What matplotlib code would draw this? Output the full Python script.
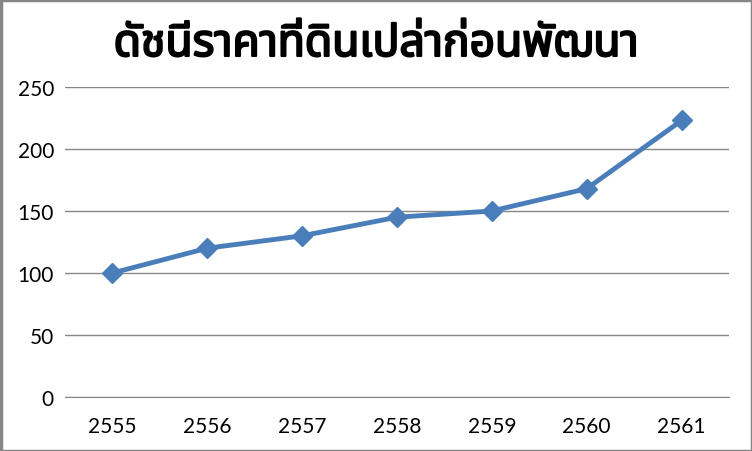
import matplotlib
matplotlib.use("Agg")
import matplotlib.pyplot as plt
from matplotlib.patches import Rectangle
import matplotlib.patheffects as pe

years = ["2555", "2556", "2557", "2558", "2559", "2560", "2561"]
values = [100, 120, 130, 145, 150, 168, 223]
yticks = [0, 50, 100, 150, 200, 250]
title = "ดัชนีราคาที่ดินเปล่าก่อนพัฒนา"

W, H = 752, 452
fig = plt.figure(figsize=(W/100, H/100), dpi=100)
ax = fig.add_axes([65/W, (H-398)/H, (729-65)/W, (398-88)/H])

x = list(range(len(years)))
ax.plot(x, values, color="#4a7ebb", lw=3.5, marker="D", ms=10, zorder=3)
ax.set_xlim(-0.5, len(years)-0.5)
ax.set_ylim(0, 250)
ax.set_yticks(yticks)
ax.set_xticks(x)
ax.set_xticklabels(years)
ax.grid(axis="y", color="#868686", lw=1)
ax.set_axisbelow(True)
for s in ["top", "right", "left"]:
    ax.spines[s].set_visible(False)
ax.spines["bottom"].set_color("#868686")
ax.tick_params(length=0, labelsize=14, colors="black")
ax.tick_params(axis="x", pad=14)
ax.tick_params(axis="y", pad=8)
for lab in ax.get_xticklabels() + ax.get_yticklabels():
    lab.set_family(["Lato", "DejaVu Sans"])
    lab.set_fontsize(15)

fig.text(0.5, 1-46/H, title, ha="center", va="center", fontsize=32, fontweight="bold",
         family=["Noto Sans Thai", "Loma", "Garuda", "DejaVu Sans", "Noto Sans"],
         path_effects=[pe.withStroke(linewidth=1.5, foreground="black")])
fig.patches.append(Rectangle((0.5/W, 0.5/H), 1-1/W, 1-1/H, transform=fig.transFigure,
                             fill=False, edgecolor="#868686", lw=2.5))
fig.savefig("out.png", dpi=100)
